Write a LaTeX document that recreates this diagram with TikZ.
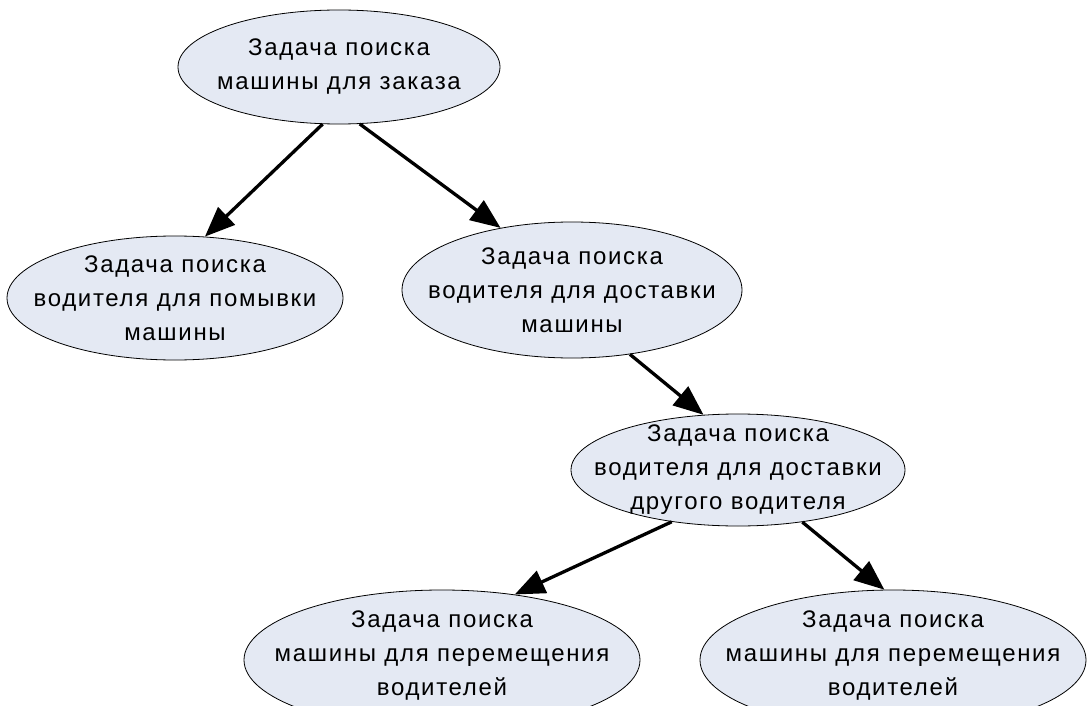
\documentclass[tikz,border=0pt]{standalone}
\usepackage{fontspec}
\setmainfont{Liberation Sans}
\newfontfamily\taskfont[LetterSpace=7]{Liberation Sans}
\usetikzlibrary{shapes.geometric,arrows.meta}
\definecolor{ellfill}{HTML}{E4E9F3}
\tikzset{
  task/.style={ellipse, draw=black, line width=0.8pt, fill=ellfill, inner sep=0pt},
  tasklabel/.style={align=center, font=\taskfont\fontsize{24}{34}\selectfont, inner sep=0pt},
  link/.style={line width=3.3pt, -{Triangle[length=30pt,width=24pt]}}
}
\begin{document}
\begin{tikzpicture}[x=1pt,y=-1pt]
\useasboundingbox (0,0) rectangle (1090,706);
\fill[white] (0,0) rectangle (1090,706);
\node[task, minimum width=322pt, minimum height=114pt,
  label={[tasklabel]center:{Задача поиска\\машины для заказа}}] (top) at (339,67) {};
\node[task, minimum width=336pt, minimum height=124pt,
  label={[tasklabel]center:{Задача поиска\\водителя для помывки\\машины}}] (left) at (175,298) {};
\node[task, minimum width=340pt, minimum height=136pt,
  label={[tasklabel]center:{Задача поиска\\водителя для доставки\\машины}}] (mid) at (572,290) {};
\node[task, minimum width=334pt, minimum height=112pt,
  label={[tasklabel]center:{Задача поиска\\водителя для доставки\\другого водителя}}] (low) at (738,470) {};
\node[task, minimum width=396pt, minimum height=140pt,
  label={[tasklabel, yshift=4pt]center:{Задача поиска\\машины для перемещения\\водителей}}] (bl) at (442,660) {};
\node[task, minimum width=386pt, minimum height=140pt,
  label={[tasklabel, yshift=4pt]center:{Задача поиска\\машины для перемещения\\водителей}}] (br) at (893,660) {};
\draw[link] (top.254) -- (left.64);
\draw[link] (top.290) -- (mid.139);
\draw[link] (mid.312) -- (low.122);
\draw[link] (low.218) -- (bl.42);
\draw[link] (low.321) -- (br.97);
\end{tikzpicture}
\end{document}
